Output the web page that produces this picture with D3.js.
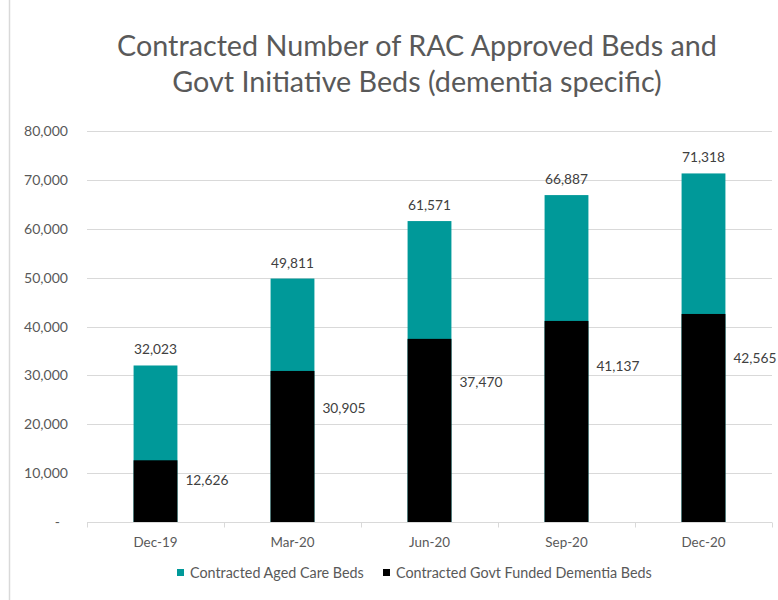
<!DOCTYPE html>
<html>
<head>
<meta charset="utf-8">
<script src="https://cdn.jsdelivr.net/npm/d3@7"></script>
<style>
  body { margin: 0; background: #ffffff; }
  svg text { font-family: Lato, "Open Sans", "Noto Sans", sans-serif; }
</style>
</head>
<body>
<svg id="chart" width="778" height="600"></svg>
<script>
// ---- data ----
const periods = ["Dec-19", "Mar-20", "Jun-20", "Sep-20", "Dec-20"];
const agedCareBeds = [32023, 49811, 61571, 66887, 71318];
const dementiaBeds = [12626, 30905, 37470, 41137, 42565];
const yTickValues = [0, 10000, 20000, 30000, 40000, 50000, 60000, 70000, 80000];
const seriesNames = ["Contracted Aged Care Beds", "Contracted Govt Funded Dementia Beds"];
const titleLines = ["Contracted Number of RAC Approved Beds and", "Govt Initiative Beds (dementia specific)"];

// ---- layout & style ----
const colors = { aged: "#009999", dementia: "#000000", grid: "#d9d9d9", axisText: "#595959", labelText: "#404040" };
const plot = { left: 87, right: 772, top: 131, bottom: 522 };
// vertical drop (px) of each dementia label below the top of its bar
const dementiaLabelDrop = [25, 42, 48, 50, 49];

const svg = d3.select("#chart");

// chart frame edge on the left
svg.append("line").attr("x1", 9.5).attr("x2", 9.5).attr("y1", 0).attr("y2", 600)
  .attr("stroke", "#d9d9d9").attr("stroke-width", 1.5);

// font sizing helper: scale a font so a sample string spans a given width
function fitSize(sample, target, weight) {
  const t = svg.append("text").attr("font-size", 20).attr("font-weight", weight || 400).text(sample);
  const w = t.node().getComputedTextLength();
  t.remove();
  return 20 * target / w;
}
const tickSize = fitSize("80,000", 44);
const catSize = fitSize("Dec-20", 44);
const labelSize = fitSize("32,023", 43);
const legendSize = fitSize(seriesNames[0], 174);
const titleSize = fitSize(titleLines[0], 600);

const x = d3.scaleBand().domain(periods).range([plot.left, plot.right])
  .paddingInner(0.68).paddingOuter(0.34);
const y = d3.scaleLinear().domain([0, 80000]).range([plot.bottom, plot.top]);

// gridlines
svg.append("g").selectAll("line").data(yTickValues.filter(d => d > 0)).join("line")
  .attr("x1", plot.left).attr("x2", plot.right)
  .attr("y1", d => Math.round(y(d)) + 0.5).attr("y2", d => Math.round(y(d)) + 0.5)
  .attr("stroke", colors.grid).attr("stroke-width", 1.2);

// y axis labels
const fmt = d3.format(",");
const yAxis = d3.axisLeft(y).tickValues(yTickValues).tickSize(0).tickPadding(0)
  .tickFormat(d => d === 0 ? "-" : fmt(d));
const yg = svg.append("g").attr("transform", `translate(68,0)`).call(yAxis);
yg.select(".domain").remove();
yg.selectAll("text").attr("font-size", tickSize).attr("fill", colors.axisText)
  .attr("font-family", 'Lato, "Open Sans", sans-serif')
  .attr("dx", d => d === 0 ? -8 : 0);

// bars: total aged-care beds behind, dementia-specific beds in front
const barG = svg.append("g");
barG.selectAll("rect.aged").data(periods).join("rect").attr("class", "aged")
  .attr("x", d => x(d)).attr("width", x.bandwidth())
  .attr("y", (d, i) => y(agedCareBeds[i])).attr("height", (d, i) => y(0) - y(agedCareBeds[i]))
  .attr("fill", colors.aged);
barG.selectAll("rect.dem").data(periods).join("rect").attr("class", "dem")
  .attr("x", d => x(d)).attr("width", x.bandwidth())
  .attr("y", (d, i) => y(dementiaBeds[i])).attr("height", (d, i) => y(0) - y(dementiaBeds[i]))
  .attr("fill", colors.dementia);

// x axis
const xg = svg.append("g").attr("transform", `translate(0,${plot.bottom + 0.5})`);
xg.append("line").attr("x1", plot.left).attr("x2", plot.right).attr("stroke", colors.grid).attr("stroke-width", 1.2);
const boundaries = periods.map(d => x(d) - x.step() * x.paddingInner() / 2 - 0).concat([plot.right]);
boundaries[0] = plot.left;
xg.selectAll("line.tick").data(boundaries).join("line").attr("class", "tick")
  .attr("x1", d => Math.round(d) + 0.5).attr("x2", d => Math.round(d) + 0.5)
  .attr("y1", 0).attr("y2", 5).attr("stroke", colors.grid);
xg.selectAll("text").data(periods).join("text")
  .attr("x", d => x(d) + x.bandwidth() / 2).attr("y", 24)
  .attr("text-anchor", "middle").attr("font-size", catSize).attr("fill", colors.axisText)
  .text(d => d);

// value labels
svg.append("g").selectAll("text").data(periods).join("text")
  .attr("x", d => x(d) + x.bandwidth() / 2)
  .attr("y", (d, i) => y(agedCareBeds[i]) - 11)
  .attr("text-anchor", "middle").attr("font-size", labelSize).attr("fill", colors.labelText)
  .text((d, i) => fmt(agedCareBeds[i]));
svg.append("g").selectAll("text").data(periods).join("text")
  .attr("x", d => x(d) + x.bandwidth() + 8)
  .attr("y", (d, i) => y(dementiaBeds[i]) + dementiaLabelDrop[i])
  .attr("text-anchor", "start").attr("font-size", labelSize).attr("fill", colors.labelText)
  .text((d, i) => fmt(dementiaBeds[i]));

// title
svg.append("g").selectAll("text").data(titleLines).join("text")
  .attr("x", 417).attr("y", (d, i) => 56 + i * 36)
  .attr("text-anchor", "middle").attr("font-size", titleSize).attr("fill", colors.axisText)
  .text(d => d);

// legend
const legendItems = [
  { name: seriesNames[0], color: colors.aged, x: 177 },
  { name: seriesNames[1], color: colors.dementia, x: 383 }
];
const lg = svg.append("g");
lg.selectAll("rect").data(legendItems).join("rect")
  .attr("x", d => d.x).attr("y", 569).attr("width", 7).attr("height", 7).attr("fill", d => d.color);
lg.selectAll("text").data(legendItems).join("text")
  .attr("x", d => d.x + 13).attr("y", 578)
  .attr("font-size", legendSize).attr("fill", colors.axisText)
  .text(d => d.name);
</script>
</body>
</html>
